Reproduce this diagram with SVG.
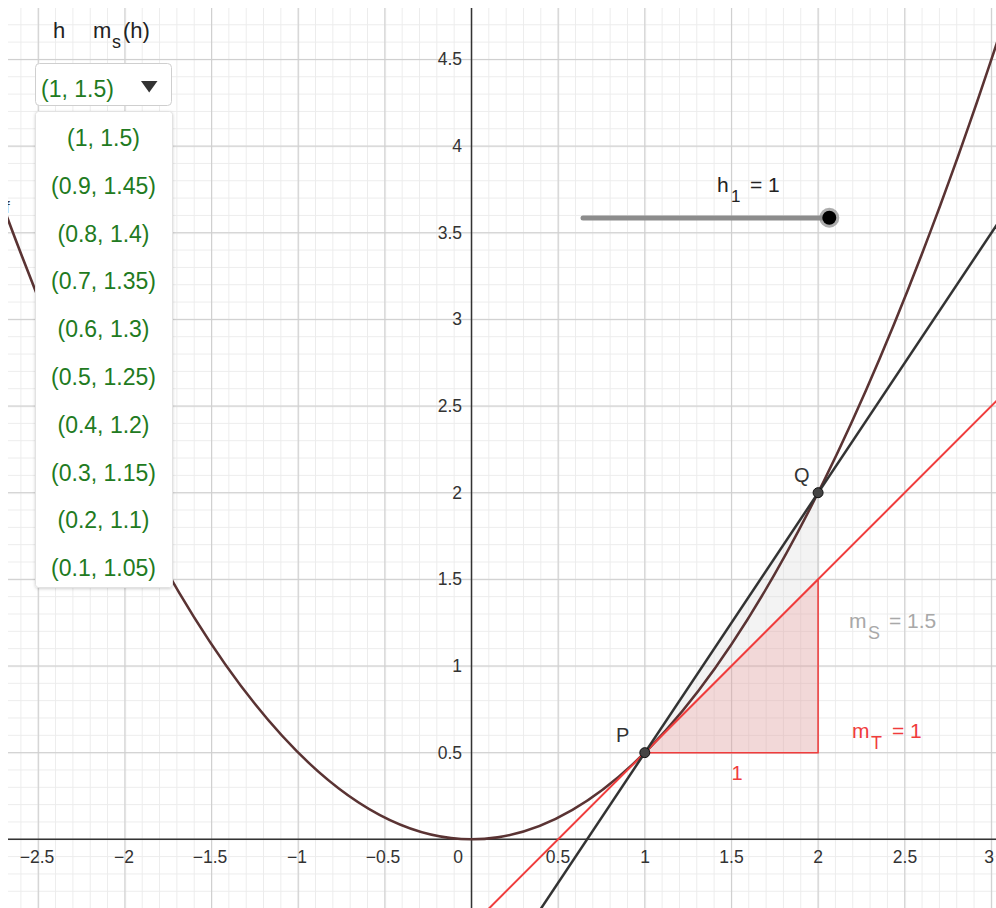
<svg xmlns="http://www.w3.org/2000/svg" width="996" height="908" viewBox="0 0 996 908">
<defs>
<style>
.lbl{font-family:"Liberation Sans",Arial,sans-serif;font-size:17.5px;fill:#333}
.t{font-family:"Liberation Sans",Arial,sans-serif}
.item{font-family:"Liberation Sans",Arial,sans-serif;font-size:23px;fill:#217a21;text-anchor:middle}
</style>
<pattern id="minor" patternUnits="userSpaceOnUse" x="471" y="838.8" width="17.33" height="17.33">
<rect x="0" y="0" width="1" height="17.33" fill="#ececec"/>
<rect x="0" y="0" width="17.33" height="1" fill="#ececec"/>
</pattern>
<pattern id="major" patternUnits="userSpaceOnUse" x="471" y="838.8" width="86.65" height="86.65">
<rect x="0" y="0" width="1.2" height="86.65" fill="#cfcfcf"/>
<rect x="0" y="0" width="86.65" height="1.2" fill="#cfcfcf"/>
</pattern>
<clipPath id="plot"><rect x="8" y="8" width="988" height="900"/></clipPath>
<filter id="sh" x="-10%" y="-10%" width="120%" height="120%">
<feDropShadow dx="0" dy="1" stdDeviation="1.5" flood-color="#000" flood-opacity="0.18"/>
</filter>
</defs>
<rect x="0" y="0" width="996" height="908" fill="#fff"/>
<g id="grid" clip-path="url(#plot)">
<rect x="8" y="8" width="988" height="900" fill="url(#minor)"/>
<rect x="8" y="8" width="988" height="900" fill="url(#major)"/>
</g>
<g id="axes" clip-path="url(#plot)" stroke="#333" stroke-width="1.5">
<line x1="8" y1="839.3" x2="996" y2="839.3"/>
<line x1="471.5" y1="8" x2="471.5" y2="908"/>
</g>
<g id="axis-labels" class="lbl">
<g text-anchor="end">
<text x="462" y="758.6">0.5</text>
<text x="462" y="672">1</text>
<text x="462" y="585.3">1.5</text>
<text x="462" y="498.7">2</text>
<text x="462" y="412">2.5</text>
<text x="462" y="325.4">3</text>
<text x="462" y="238.7">3.5</text>
<text x="462" y="152.1">4</text>
<text x="462" y="65.4">4.5</text>
</g>
<g text-anchor="middle">
<text x="37" y="863">−2.5</text>
<text x="124" y="863">−2</text>
<text x="210" y="863">−1.5</text>
<text x="297" y="863">−1</text>
<text x="383" y="863">−0.5</text>
<text x="458" y="863">0</text>
<text x="558" y="863">0.5</text>
<text x="645" y="863">1</text>
<text x="731.5" y="863">1.5</text>
<text x="818" y="863">2</text>
<text x="905" y="863">2.5</text>
<text x="989" y="863">3</text>
</g>
</g>
<g id="connectors" clip-path="url(#plot)">
<polygon id="secant-triangle" points="644.8,752.65 818.1,752.65 818.1,492.7" fill="#d8d8d8" fill-opacity="0.3" stroke="#d4d4d4" stroke-width="1.5"/>
<polygon id="tangent-triangle" points="644.8,752.65 818.1,752.65 818.1,579.35" fill="#f03c3c" fill-opacity="0.14" stroke="#f03c3c" stroke-width="1.5"/>
<path id="curve-f" d="M-5.08,184 Q497.5,1566.1 1000.07,33.24" fill="none" stroke="#5a3333" stroke-width="2.6"/>
<line id="tangent" x1="470" y1="927.45" x2="1010" y2="387.45" stroke="#f03c3c" stroke-width="2"/>
<line id="secant" x1="520" y1="940" x2="1010" y2="205" stroke="#333" stroke-width="2.5"/>
<text class="t" x="5" y="213" font-size="17" fill="#333">f</text>
</g>
<g id="point-P">
<circle cx="644.8" cy="752.65" r="5" fill="#444" stroke="#111" stroke-width="1"/>
<text class="t" x="616" y="742" font-size="20" fill="#333">P</text>
</g>
<g id="point-Q">
<circle cx="818.1" cy="492.7" r="5" fill="#444" stroke="#111" stroke-width="1"/>
<text class="t" x="794" y="482" font-size="20" fill="#333">Q</text>
</g>
<g id="label-one">
<text class="t" x="737" y="780" font-size="20" fill="#f03c3c" text-anchor="middle">1</text>
</g>
<g id="label-mS" class="t" fill="#a8a8a8">
<text x="849" y="628" font-size="21">m</text>
<text x="868" y="639" font-size="18">S</text>
<text x="889" y="628" font-size="21">= 1.5</text>
</g>
<g id="label-mT" class="t" fill="#f03c3c">
<text x="852" y="738" font-size="21">m</text>
<text x="871" y="749" font-size="18">T</text>
<text x="892" y="738" font-size="21">= 1</text>
</g>
<g id="slider">
<line x1="583" y1="218" x2="829" y2="218" stroke="#8c8c8c" stroke-width="5" stroke-linecap="round"/>
<circle cx="829.3" cy="217.7" r="10" fill="#8c8c8c" fill-opacity="0.7"/>
<circle cx="829.3" cy="217.7" r="7" fill="#000"/>
<g class="t" fill="#222">
<text x="717" y="192" font-size="21">h</text>
<text x="731" y="202" font-size="17">1</text>
<text x="750" y="192" font-size="21">= 1</text>
</g>
</g>
<g id="table-header" class="t" fill="#222">
<text x="53" y="38" font-size="22">h</text>
<text x="93" y="38" font-size="22">m</text>
<text x="112" y="48" font-size="18">s</text>
<text x="123" y="38" font-size="22">(h)</text>
</g>
<g id="dropdown">
<rect x="35.5" y="63.5" width="136" height="42" rx="4" fill="#fff" stroke="#cfcfcf" stroke-width="1"/>
<text class="t" x="41" y="97" font-size="23" fill="#217a21">(1, 1.5)</text>
<polygon points="141,81 157.5,81 149.2,92.5" fill="#333"/>
</g>
<g id="dropdown-list">
<rect x="35.5" y="111.5" width="137" height="476" rx="3" fill="#fff" stroke="#e2e2e2" stroke-width="1" filter="url(#sh)"/>
<text class="item" x="103.5" y="146">(1, 1.5)</text>
<text class="item" x="103.5" y="193.8">(0.9, 1.45)</text>
<text class="item" x="103.5" y="241.6">(0.8, 1.4)</text>
<text class="item" x="103.5" y="289.4">(0.7, 1.35)</text>
<text class="item" x="103.5" y="337.2">(0.6, 1.3)</text>
<text class="item" x="103.5" y="385">(0.5, 1.25)</text>
<text class="item" x="103.5" y="432.8">(0.4, 1.2)</text>
<text class="item" x="103.5" y="480.6">(0.3, 1.15)</text>
<text class="item" x="103.5" y="528.4">(0.2, 1.1)</text>
<text class="item" x="103.5" y="576.2">(0.1, 1.05)</text>
</g>
</svg>
